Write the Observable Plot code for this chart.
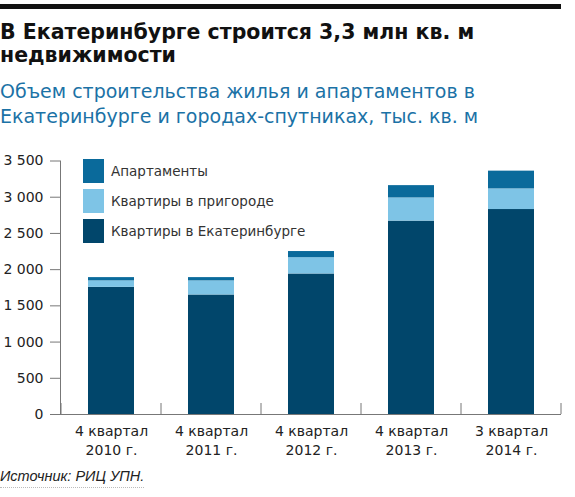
<!DOCTYPE html>
<html>
<head>
<meta charset="utf-8">
<script src="https://cdn.jsdelivr.net/npm/d3@7"></script>
<script src="https://cdn.jsdelivr.net/npm/@observablehq/plot@0.6"></script>
<style>
  body { margin: 0; background: #fff; }
  #wrap { position: relative; width: 575px; height: 497px; font-family: "DejaVu Sans", sans-serif; }
  .topbar { position: absolute; left: 0; top: 4px; width: 561px; height: 4.5px; background: #111; }
  .title { position: absolute; left: 0; top: 21px; font-weight: bold; font-size: 20.5px; line-height: 23px; color: #111; white-space: nowrap; }
  .subtitle { position: absolute; left: 0; top: 79px; font-size: 19px; line-height: 24.5px; color: #1b72a6; white-space: nowrap; }
  #chart { position: absolute; left: 0; top: 140px; }
  .legend { position: absolute; left: 83px; top: 159px; font-size: 13.5px; color: #333; }
  .legend .item { display: flex; align-items: center; height: 24px; margin-bottom: 6px; }
  .legend .sw { width: 21px; height: 24px; margin-right: 7px; }
  .source { position: absolute; left: 0; top: 467px; font-family: "Liberation Sans", Arial, sans-serif; font-style: italic; font-size: 14.5px; line-height: 18px; color: #222;
            padding-bottom: 2px; border-bottom: 1px dotted #bbb; }
</style>
</head>
<body>
<div id="wrap">
  <div class="topbar"></div>
  <div class="title">В Екатеринбурге строится 3,3 млн кв. м<br>недвижимости</div>
  <div class="subtitle">Объем строительства жилья и апартаментов в<br>Екатеринбурге и городах-спутниках, тыс. кв. м</div>
  <div id="chart"></div>
  <div class="legend" id="legend"></div>
  <div class="source">Источник: РИЦ УПН.</div>
</div>
<script>
// periods on the x axis
const quarters = ["4 квартал\n2010 г.", "4 квартал\n2011 г.", "4 квартал\n2012 г.", "4 квартал\n2013 г.", "3 квартал\n2014 г."]

// series, bottom to top
const seriesNames = ["Квартиры в Екатеринбурге", "Квартиры в пригороде", "Апартаменты"]
const seriesColors = ["#01466b", "#7ec4e6", "#0a6a9b"]

// thousand sq. m
const ekb = [1755, 1650, 1940, 2670, 2830]
const suburbs = [90, 195, 225, 320, 285]
const apartments = [45, 45, 85, 170, 245]

const yTicks = [0, 500, 1000, 1500, 2000, 2500, 3000, 3500]

const rows = []
quarters.forEach((q, i) => {
  rows.push({quarter: q, series: seriesNames[0], value: ekb[i]})
  rows.push({quarter: q, series: seriesNames[1], value: suburbs[i]})
  rows.push({quarter: q, series: seriesNames[2], value: apartments[i]})
})

const fmt = d => d >= 1000 ? d3.format(",")(d).replace(",", " ") : String(d)

const chart = Plot.plot({
  width: 575,
  height: 320,
  marginTop: 20.5,
  marginBottom: 46,
  marginLeft: 60,
  marginRight: 14,
  style: { fontFamily: "DejaVu Sans, sans-serif", fontSize: "14px", color: "#222", background: "transparent" },
  x: { domain: quarters, paddingInner: 0.54, paddingOuter: 0.27, label: null },
  y: { domain: [0, 3500], label: null },
  color: { domain: seriesNames, range: seriesColors },
  marks: [
    Plot.barY(rows, { x: "quarter", y: "value", fill: "series" }),
    Plot.frame({ anchor: "left", stroke: "#777" }),
    Plot.ruleY([0], { stroke: "#777" }),
    Plot.axisY({ ticks: yTicks, tickSize: 10, tickPadding: 7, tickFormat: fmt, stroke: "#777", fill: "#222", fontSize: 14 }),
    Plot.axisX({ tickSize: 0, tickPadding: 9, fontSize: 14, lineHeight: 1.3, fill: "#222" })
  ]
})

document.getElementById("chart").append(chart)

// small upward ticks at the band boundaries of the x axis
const xs = chart.scale("x")
const ys = chart.scale("y")
const gap = (xs.step - xs.bandwidth) / 2
const bounds = quarters.map(q => xs.apply(q) - gap)
bounds.push(xs.apply(quarters[quarters.length - 1]) + xs.bandwidth + gap)
const y0 = ys.apply(0)
d3.select(chart).append("g")
  .attr("stroke", "#777")
  .selectAll("line")
  .data(bounds)
  .join("line")
  .attr("x1", d => d).attr("x2", d => d)
  .attr("y1", y0).attr("y2", y0 - 11)

// legend, top to bottom
const legend = d3.select("#legend")
;[2, 1, 0].forEach(i => {
  const item = legend.append("div").attr("class", "item")
  item.append("div").attr("class", "sw").style("background", seriesColors[i])
  item.append("span").text(seriesNames[i])
})
</script>
</body>
</html>
